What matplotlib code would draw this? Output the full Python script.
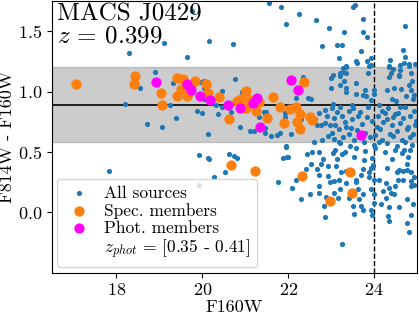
import numpy as np
import matplotlib
matplotlib.use("Agg")
import matplotlib.pyplot as plt

plt.rcParams['font.family'] = 'serif'
plt.rcParams['font.serif'] = ['cmr10', 'DejaVu Serif']
plt.rcParams['mathtext.fontset'] = 'cm'
plt.rcParams['axes.formatter.use_mathtext'] = True

# all sources (F160W, F814W - F160W)
all_x = [19.76, 19.10, 18.29, 19.65, 20.15, 18.89, 18.56, 19.32, 18.19, 19.24,
         18.72, 19.07, 19.39, 19.87, 19.99, 20.04, 19.95, 20.04, 20.14, 19.92,
         20.14, 20.71, 21.55, 21.84, 21.94, 20.77, 20.05, 20.31, 20.46, 20.37,
         20.66, 20.88, 21.11, 21.21, 21.33, 21.43, 21.49, 21.46, 21.46, 21.60,
         21.74, 21.81, 21.92, 21.92, 20.93, 20.47, 22.25, 22.64, 22.95, 22.80,
         23.13, 23.26, 23.31, 23.51, 23.56, 23.74, 23.74, 23.84, 23.69, 23.18,
         23.60, 23.84, 23.93, 23.93, 24.72, 24.68, 24.72, 24.38, 24.70, 24.82,
         24.95, 24.36, 24.45, 24.61, 23.27, 23.36, 23.29, 23.00, 23.20, 23.31,
         23.58, 23.22, 23.00, 23.35, 23.34, 23.79, 23.59, 23.74, 23.82, 23.99,
         23.93, 23.99, 22.35, 22.46, 22.54, 22.18, 24.30, 24.47, 24.63, 24.34,
         24.59, 24.82, 24.86, 24.43, 24.51, 24.75, 24.90, 24.94, 24.89, 23.34,
         23.58, 23.89, 24.36, 24.60, 24.82, 23.04, 23.20, 23.36, 23.85, 24.40,
         24.59, 24.86, 23.04, 24.12, 22.87, 22.90, 22.85, 22.97, 22.76, 22.62,
         22.93, 22.73, 22.31, 22.67, 22.06, 21.94, 21.98, 21.87, 22.45, 22.73,
         23.04, 20.62, 20.74, 20.82, 20.16, 20.53, 20.28, 19.93, 21.77, 22.00,
         21.94, 22.08, 17.83, 22.56, 22.81, 22.54, 22.77, 22.93, 22.42, 22.68,
         22.93, 22.73, 22.97, 22.19, 22.73, 22.73, 22.50, 22.31, 22.89, 22.83,
         22.85, 23.25, 23.41, 22.60, 22.80,
         # dense block below the line, x > 23
         23.03, 23.14, 23.22, 23.41, 23.52, 23.68, 23.86, 24.18, 24.33, 24.57, 24.72, 24.93,
         23.08, 23.25, 23.49, 23.63, 23.95, 24.10, 24.30, 24.49, 24.68, 24.84, 24.97,
         23.10, 23.33, 23.46, 23.72, 24.07, 24.22, 24.41, 24.61, 24.80,
         23.02, 23.18, 23.41, 23.60, 23.80, 24.14, 24.38, 24.53, 24.77, 24.92,
         23.06, 23.29, 23.53, 23.91, 24.18, 24.45, 24.65, 24.84,
         23.22, 23.45, 23.76, 23.99, 24.30, 24.53, 24.72, 24.88,
         23.10, 23.33, 23.57, 23.80, 24.03, 24.26, 24.49, 24.65, 24.85,
         23.14, 23.53, 23.76, 23.95, 24.42, 24.80,
         23.98, 24.30, 24.76,
         23.36, 23.84, 24.60, 24.03, 23.66, 24.26, 24.96, 23.26, 24.12, 24.70,
         23.48, 23.18, 24.44,
         # lower right
         23.06, 23.18, 23.08, 23.20, 23.16, 23.34, 23.58, 23.57, 23.70, 23.74,
         23.64, 23.52, 23.53, 23.70, 23.74, 23.89, 23.93, 23.97, 23.88, 24.01,
         24.11, 23.93, 23.99, 24.01, 23.93, 23.95, 24.16, 24.20, 24.29, 24.34,
         24.40, 24.47, 24.50, 24.54, 24.59, 24.67, 24.78, 24.86, 24.55, 24.68,
         24.86, 24.94, 24.94, 24.86, 24.28, 24.34, 24.32, 24.36, 24.59, 24.78,
         24.90, 24.86, 24.76, 24.82, 23.24, 23.35, 23.12, 23.74, 23.62]
all_y = [1.67, 1.40, 1.32, 1.29, 1.42, 1.16, 1.03, 1.07, 0.90, 0.885,
         0.73, 0.71, 0.785, 0.84, 0.82, 0.94, 1.08, 1.03, 0.65, 0.475,
         0.45, 1.39, 1.73, 1.70, 1.56, 1.105, 1.088, 0.885, 0.87, 0.81,
         0.83, 0.71, 0.67, 0.67, 0.79, 0.83, 0.83, 0.70, 0.66, 0.63,
         0.64, 0.66, 0.82, 0.79, 1.00, 1.006, 1.64, 1.59, 1.53, 1.38,
         1.385, 1.385, 1.49, 1.70, 1.72, 1.60, 1.49, 1.45, 1.335, 1.28,
         1.24, 1.25, 1.275, 1.22, 1.54, 1.34, 1.29, 1.26, 1.24, 1.23,
         1.23, 1.20, 1.19, 1.18, 1.195, 1.20, 1.16, 1.11, 1.13, 1.09,
         1.07, 1.055, 1.03, 1.03, 1.00, 1.01, 0.98, 0.97, 0.96, 0.98,
         0.93, 1.01, 1.12, 0.95, 0.94, 0.95, 1.01, 1.03, 1.02, 1.12,
         1.13, 1.05, 1.01, 0.94, 0.92, 0.96, 0.94, 0.97, 1.09, 1.21,
         1.25, 1.21, 1.21, 1.22, 1.21, 1.14, 1.15, 1.15, 1.15, 1.15,
         1.14, 1.15, 0.90, 0.89, 0.85, 0.80, 0.74, 0.725, 0.72, 0.77,
         0.63, 0.82, 0.77, 0.72, 0.65, 0.54, 0.46, 0.45, 0.48, 0.50,
         0.49, 0.48, 0.47, 0.45, 0.44, 0.33, 0.29, 0.23, 0.25, 0.46,
         0.55, 0.20, 0.345, 0.50, 0.44, 0.40, 0.40, 0.38, 0.36, 0.36,
         0.30, 0.31, 0.25, 0.265, 0.22, 0.16, 0.15, 0.11, 0.13, 0.05,
         -0.04, -0.26, 0.12, 0.58, 0.60,
         0.86, 0.83, 0.87, 0.84, 0.86, 0.83, 0.87, 0.84, 0.86, 0.82, 0.87, 0.84,
         0.78, 0.80, 0.77, 0.80, 0.76, 0.80, 0.77, 0.81, 0.78, 0.80, 0.76,
         0.72, 0.75, 0.70, 0.73, 0.71, 0.75, 0.72, 0.74, 0.71,
         0.66, 0.69, 0.65, 0.68, 0.66, 0.69, 0.65, 0.67, 0.69, 0.65,
         0.61, 0.62, 0.60, 0.62, 0.60, 0.63, 0.60, 0.62,
         0.57, 0.55, 0.58, 0.56, 0.57, 0.55, 0.58, 0.56,
         0.52, 0.50, 0.53, 0.51, 0.53, 0.50, 0.52, 0.49, 0.52,
         0.44, 0.46, 0.43, 0.45, 0.44, 0.46,
         0.39, 0.37, 0.40,
         0.71, 0.79, 0.87, 0.64, 0.62, 0.82, 0.72, 0.48, 0.58, 0.52,
         0.89, 0.58, 0.79,
         0.26, 0.27, 0.16, 0.19, 0.12, 0.24, 0.27, 0.25, 0.31, 0.15,
         0.11, 0.05, -0.01, 0.05, 0.02, 0.33, 0.37, 0.38, 0.29, 0.27,
         0.27, 0.19, 0.15, 0.08, 0.02, -0.02, 0.065, 0.175, 0.245, 0.20,
         0.16, 0.15, 0.22, 0.33, 0.35, 0.34, 0.35, 0.33, 0.27, 0.27,
         0.26, 0.29, 0.23, 0.215, 0.12, 0.04, -0.03, -0.07, 0.04, 0.11,
         0.07, -0.02, -0.09, -0.16, 0.33, 0.34, 0.38, 0.36, 0.195]

# spectroscopic members
spec_x = [17.07, 18.44, 18.40, 19.03, 19.06, 19.41, 19.56, 19.50, 19.42, 19.65,
          19.82, 19.73, 20.08, 20.14, 20.38, 21.03, 20.80, 20.91, 21.11, 21.03,
          21.25, 21.51, 21.65, 21.81, 21.90, 22.04, 22.19, 22.27, 22.21, 22.27,
          22.37, 22.50, 22.56, 20.63, 21.32, 20.66, 21.24, 22.32, 23.44, 23.48,
          22.97]
spec_y = [1.063, 1.13, 1.063, 0.987, 0.885, 1.115, 1.10, 1.02, 0.96, 0.96,
          1.086, 1.05, 1.063, 0.987, 0.956, 1.003, 0.923, 0.937, 0.93, 0.863,
          0.835, 0.78, 0.954, 0.876, 0.74, 0.855, 0.876, 0.816, 0.75, 0.69,
          1.083, 0.79, 0.766, 0.77, 0.91, 0.395, 0.346, 0.30, 0.33, 0.16,
          0.09]

# photometric members
phot_x = [18.92, 19.64, 19.74, 19.94, 20.18, 20.60, 20.88, 21.19, 21.28, 21.34,
          22.06, 22.23, 23.70]
phot_y = [1.08, 1.06, 1.01, 0.96, 0.93, 0.89, 0.863, 0.904, 0.95, 0.71,
          1.097, 1.01, 0.643]

rs_center = 0.89
rs_width = 0.31
mag_limit = 24

fig = plt.figure(figsize=(4.19, 3.16), dpi=100)
ax = fig.add_axes([0.124, 0.137, 0.871, 0.86])

ax.axhspan(rs_center - rs_width, rs_center + rs_width, color='gray', alpha=0.4, lw=1, zorder=0)
ax.axhline(rs_center, color='k', lw=1.2, zorder=1)
ax.axvline(mag_limit, color='k', ls='--', lw=1, zorder=1)

ax.scatter(all_x, all_y, s=14, color='#1f77b4', lw=0, label='All sources', zorder=2)
ax.scatter(spec_x, spec_y, s=55, color='#ff7f0e', lw=0, label='Spec. members', zorder=3)
ax.scatter(phot_x, phot_y, s=55, color='magenta', lw=0, label='Phot. members', zorder=4)
ax.plot([], [], ' ', label=r'$z_{phot}$ = [0.35 - 0.41]')

ax.text(0.015, 0.99, 'MACS J0429\n$z$ = 0.399', transform=ax.transAxes,
        fontsize=18, va='top', ha='left', linespacing=1.0)

ax.set_xlim(16.5, 25)
ax.set_ylim(-0.5, 1.75)
ax.set_xticks([18, 20, 22, 24])
ax.set_yticks([0.0, 0.5, 1.0, 1.5])
ax.tick_params(labelsize=13)
ax.set_xlabel('F160W', fontsize=13, labelpad=1)
ax.set_ylabel('F814W - F160W', fontsize=13, labelpad=2)

ax.legend(loc='lower left', fontsize=12.5, handletextpad=0.6, borderaxespad=0.3,
          labelspacing=0.1, handlelength=1.7, borderpad=0.4)

fig.savefig('out.png', dpi=100)
